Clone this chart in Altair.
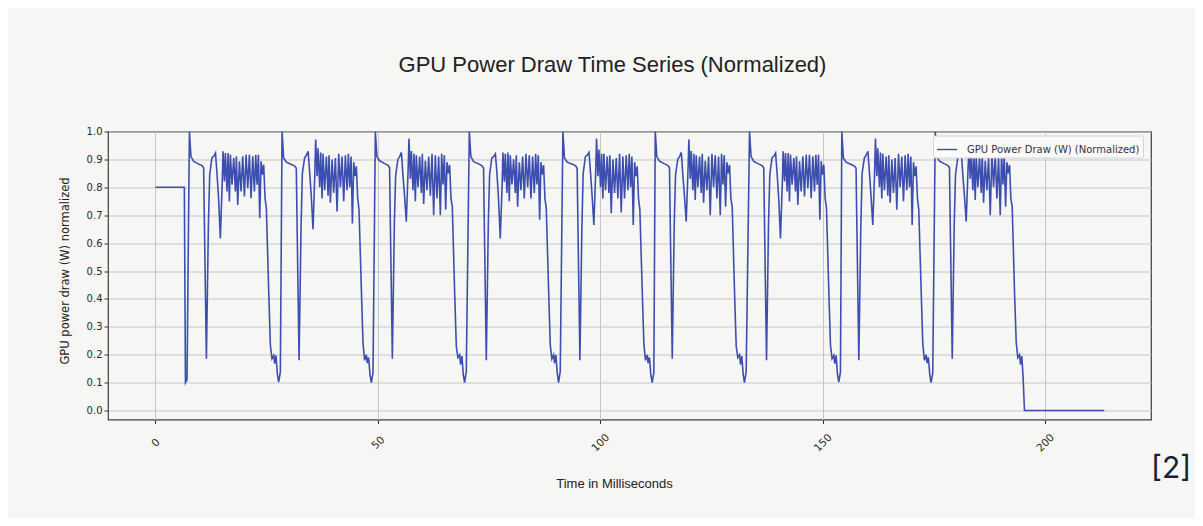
import altair as alt
import pandas as pd

SERIES = "GPU Power Draw (W) (Normalized)"

# leading idle segment (ms, normalized power)
lead_ms = [0.0, 6.5, 6.75, 7.1]
lead_vals = [0.8, 0.8, 0.10, 0.11]

# peak time of each of the nine bursts (ms)
cycle_peaks_ms = [7.64, 28.47, 49.44, 70.56, 91.60, 112.36, 133.55, 154.30, 175.30]

# sample offsets inside a burst, relative to its peak (ms)
offsets_ms = [0.0, 0.35, 0.96, 2.1, 2.86, 3.2, 3.3, 3.82, 4.27, 4.56, 5.06, 5.46, 5.86,
              6.22, 6.56, 6.96, 7.36, 7.56, 7.87, 8.09, 8.46, 8.69, 8.99, 9.21, 9.58,
              9.96, 10.34, 10.56, 10.86, 11.24, 11.61, 11.99, 12.36, 12.74, 13.11, 13.48,
              13.86, 14.23, 14.61, 14.91, 15.21, 15.51, 15.81, 16.11, 16.4, 16.7, 17.0,
              17.3, 17.83, 18.2, 18.56, 18.96, 19.16, 19.46, 19.76, 20.06, 20.44]

cycle1 = [1.0, 0.91, 0.893, 0.883, 0.878, 0.869, 0.75, 0.186, 0.665, 0.845, 0.905, 0.911, 0.923,
          0.845, 0.761, 0.617, 0.81, 0.929, 0.821, 0.923, 0.785, 0.923, 0.749, 0.917, 0.809,
          0.905, 0.785, 0.911, 0.737, 0.893, 0.785, 0.911, 0.767, 0.917, 0.797, 0.917,
          0.761, 0.911, 0.785, 0.917, 0.809, 0.917, 0.689, 0.893, 0.845, 0.881, 0.761,
          0.725, 0.426, 0.234, 0.186, 0.198, 0.168, 0.198, 0.132, 0.102, 0.138]
cycle2 = [1.0, 0.905, 0.89, 0.882, 0.876, 0.868, 0.75, 0.18, 0.66, 0.85, 0.905, 0.915, 0.929,
          0.85, 0.77, 0.65, 0.85, 0.971, 0.84, 0.94, 0.80, 0.925, 0.76, 0.92, 0.79,
          0.91, 0.77, 0.915, 0.745, 0.90, 0.78, 0.905, 0.713, 0.92, 0.80, 0.91,
          0.75, 0.915, 0.79, 0.92, 0.80, 0.91, 0.67, 0.89, 0.84, 0.875, 0.76,
          0.72, 0.43, 0.24, 0.18, 0.20, 0.17, 0.19, 0.13, 0.10, 0.135]
cycle3 = [1.0, 0.91, 0.895, 0.885, 0.879, 0.87, 0.75, 0.186, 0.67, 0.84, 0.90, 0.91, 0.925,
          0.84, 0.77, 0.677, 0.86, 0.975, 0.83, 0.93, 0.79, 0.92, 0.75, 0.915, 0.80,
          0.91, 0.78, 0.92, 0.74, 0.895, 0.79, 0.91, 0.77, 0.92, 0.70, 0.915,
          0.76, 0.91, 0.70, 0.92, 0.81, 0.915, 0.72, 0.89, 0.85, 0.88, 0.76,
          0.73, 0.42, 0.23, 0.19, 0.20, 0.165, 0.195, 0.13, 0.10, 0.14]
cycle4 = [1.0, 0.91, 0.892, 0.884, 0.877, 0.869, 0.75, 0.18, 0.665, 0.845, 0.905, 0.91, 0.92,
          0.85, 0.76, 0.617, 0.80, 0.925, 0.82, 0.92, 0.78, 0.925, 0.75, 0.915, 0.81,
          0.90, 0.78, 0.915, 0.73, 0.89, 0.79, 0.91, 0.76, 0.92, 0.80, 0.915,
          0.76, 0.91, 0.78, 0.92, 0.81, 0.915, 0.684, 0.89, 0.845, 0.88, 0.76,
          0.725, 0.43, 0.235, 0.185, 0.20, 0.17, 0.20, 0.135, 0.10, 0.14]
cycle5 = [1.0, 0.905, 0.89, 0.883, 0.877, 0.868, 0.75, 0.18, 0.66, 0.85, 0.91, 0.915, 0.925,
          0.85, 0.77, 0.665, 0.85, 0.975, 0.84, 0.935, 0.80, 0.92, 0.76, 0.92, 0.79,
          0.91, 0.78, 0.915, 0.707, 0.90, 0.78, 0.905, 0.76, 0.92, 0.71, 0.91,
          0.76, 0.915, 0.79, 0.92, 0.80, 0.91, 0.665, 0.89, 0.84, 0.875, 0.76,
          0.72, 0.43, 0.24, 0.18, 0.20, 0.17, 0.19, 0.13, 0.10, 0.135]
cycle6 = [1.0, 0.91, 0.894, 0.884, 0.878, 0.87, 0.75, 0.186, 0.67, 0.845, 0.90, 0.91, 0.925,
          0.84, 0.77, 0.677, 0.86, 0.971, 0.83, 0.93, 0.79, 0.92, 0.755, 0.915, 0.80,
          0.91, 0.78, 0.92, 0.745, 0.895, 0.79, 0.91, 0.70, 0.92, 0.80, 0.915,
          0.76, 0.91, 0.70, 0.92, 0.81, 0.915, 0.73, 0.89, 0.85, 0.88, 0.76,
          0.73, 0.42, 0.23, 0.19, 0.20, 0.165, 0.195, 0.13, 0.10, 0.14]
cycle7 = [1.0, 0.91, 0.893, 0.883, 0.878, 0.869, 0.75, 0.18, 0.665, 0.845, 0.905, 0.911, 0.923,
          0.845, 0.761, 0.617, 0.81, 0.929, 0.821, 0.923, 0.785, 0.923, 0.749, 0.917, 0.809,
          0.905, 0.785, 0.911, 0.737, 0.893, 0.785, 0.911, 0.767, 0.917, 0.797, 0.917,
          0.761, 0.911, 0.785, 0.917, 0.809, 0.917, 0.684, 0.893, 0.845, 0.881, 0.761,
          0.725, 0.426, 0.234, 0.186, 0.198, 0.168, 0.198, 0.132, 0.102, 0.138]
cycle8 = [1.0, 0.905, 0.89, 0.882, 0.876, 0.868, 0.75, 0.18, 0.66, 0.85, 0.905, 0.915, 0.929,
          0.85, 0.77, 0.665, 0.85, 0.975, 0.84, 0.94, 0.80, 0.925, 0.76, 0.92, 0.79,
          0.91, 0.77, 0.915, 0.745, 0.90, 0.78, 0.905, 0.72, 0.92, 0.80, 0.91,
          0.75, 0.915, 0.79, 0.92, 0.80, 0.91, 0.665, 0.89, 0.84, 0.875, 0.76,
          0.72, 0.43, 0.24, 0.18, 0.20, 0.17, 0.19, 0.13, 0.10, 0.135]
cycle9 = [1.0, 0.91, 0.894, 0.884, 0.878, 0.87, 0.75, 0.186, 0.67, 0.845, 0.905, 0.911, 0.925,
          0.84, 0.77, 0.677, 0.86, 0.93, 0.83, 0.925, 0.79, 0.92, 0.755, 0.915, 0.80,
          0.91, 0.78, 0.92, 0.745, 0.895, 0.79, 0.91, 0.70, 0.92, 0.80, 0.915,
          0.76, 0.91, 0.70, 0.92, 0.81, 0.915, 0.73, 0.89, 0.85, 0.88, 0.76,
          0.73, 0.42, 0.245, 0.19, 0.20, 0.165, 0.195, 0.115, 0.0, 0.0]
cycles = [cycle1, cycle2, cycle3, cycle4, cycle5, cycle6, cycle7, cycle8, cycle9]

# trailing idle segment
tail_ms = [213.3]
tail_vals = [0.0]

x_ticks = [0, 50, 100, 150, 200]
y_ticks = [0.0, 0.1, 0.2, 0.3, 0.4, 0.5, 0.6, 0.7, 0.8, 0.9, 1.0]

times, vals = list(lead_ms), list(lead_vals)
for peak, cv in zip(cycle_peaks_ms, cycles):
    times += [round(peak + o, 3) for o in offsets_ms]
    vals += cv
times += tail_ms
vals += tail_vals
df = pd.DataFrame({"time": times, "power": vals, "series": SERIES})

LINE = "#3d4fae"
BG = "#f6f6f4"

line = alt.Chart(df).mark_line(strokeWidth=1.6, clip=True).encode(
    x=alt.X("time:Q",
            scale=alt.Scale(domain=[-10.66, 223.8], nice=False, zero=False),
            axis=alt.Axis(values=x_ticks, grid=True, gridColor="#c6c6c6", gridWidth=1,
                          domain=False, ticks=True, tickColor="#333333", tickSize=4,
                          labelAngle=315, labelAlign="center", labelBaseline="middle",
                          labelPadding=19, labelFont="DejaVu Sans", labelFontSize=10.5,
                          labelColor="#2a2a2a",
                          title="Time in Milliseconds", titleFont="Liberation Sans",
                          titleFontSize=13, titleFontWeight="normal", titleColor="#222222",
                          titleX=506, titleY=64, titleAlign="center", titleBaseline="middle")),
    y=alt.Y("power:Q",
            scale=alt.Scale(domain=[-0.032, 1.0], nice=False, zero=False),
            axis=alt.Axis(values=y_ticks, format=".1f", grid=True, gridColor="#c6c6c6",
                          gridWidth=1, domain=False, ticks=True, tickColor="#333333",
                          tickSize=4, labelPadding=2, labelFont="DejaVu Sans",
                          labelFontSize=10, labelColor="#2a2a2a",
                          title="GPU power draw (W) normalized", titleFont="DejaVu Sans",
                          titleFontSize=11.5, titleFontWeight="normal", titleColor="#222222",
                          titleX=-43, titleY=139, titleAngle=270, titleAlign="center",
                          titleBaseline="middle")),
    color=alt.Color("series:N", scale=alt.Scale(range=[LINE]), title=None,
                    legend=alt.Legend(orient="none", legendX=825, legendY=4,
                                      fillColor="#fafafa", strokeColor="#d4d4d4",
                                      padding=3, cornerRadius=2, symbolType="stroke",
                                      symbolSize=400, symbolStrokeWidth=1.4,
                                      labelFont="DejaVu Sans", labelFontSize=10,
                                      labelColor="#333333", labelOffset=9, labelLimit=400)),
)

note = alt.Chart(pd.DataFrame({"t": ["[2]"]})).mark_text(
    font="Inter", fontSize=30, color="#1b2333", align="left", baseline="middle"
).encode(x=alt.value(1043), y=alt.value(337), text="t:N")

chart = alt.layer(line, note).properties(
    width=1043, height=288,
    title=alt.TitleParams("GPU Power Draw Time Series (Normalized)", font="Liberation Sans",
                          fontSize=22, fontWeight="normal", color="#222222",
                          anchor="middle", dx=-17, offset=50),
    autosize=alt.AutoSizeParams(type="none"),
    padding={"left": 100, "top": 123.5, "right": 44, "bottom": 98},
    background=BG,
).configure_view(stroke="#3c3c3c", strokeWidth=1.2, fill=BG)

chart.save("out.html", embed_options={"renderer": "svg", "actions": False})
